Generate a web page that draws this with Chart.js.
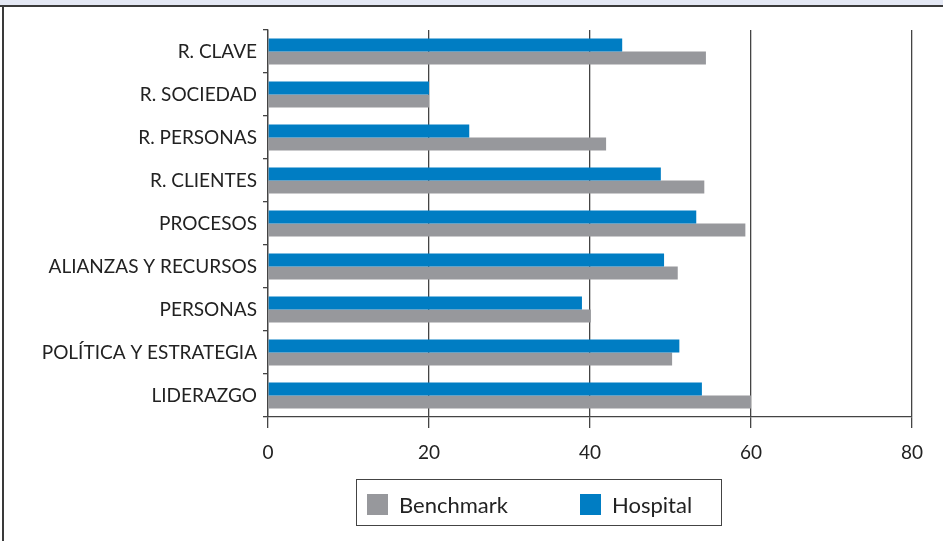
<!DOCTYPE html>
<html>
<head>
<meta charset="utf-8">
<script src="https://cdn.jsdelivr.net/npm/chart.js@4/dist/chart.umd.min.js"></script>
<style>
  html, body { margin: 0; padding: 0; background: #fff; }
  #frame { position: relative; width: 943px; height: 541px; overflow: hidden; }
  #topband { position: absolute; left: 0; top: 0; width: 943px; height: 5px; background: #e4e8f4; border-bottom: 2px solid #3a3a3a; }
  #leftline { position: absolute; left: 2px; top: 5px; width: 2px; height: 536px; background: #3a3a3a; }
  #chartWrap { position: absolute; left: 0; top: 0; width: 943px; height: 541px; }
  #legend {
    position: absolute; left: 356px; top: 479px; width: 364px; height: 45px;
    border: 1.5px solid #444; box-sizing: content-box;
    font-family: Lato, sans-serif; font-size: 22px; color: #222;
  }
  .item { position: absolute; top: 11px; display: flex; align-items: center; }
  .swatch { width: 21px; height: 21px; margin-right: 11px; }
</style>
</head>
<body>
<div id="frame">
  <div id="topband"></div>
  <div id="leftline"></div>
  <div id="chartWrap"><canvas id="chart" width="943" height="541"></canvas></div>
  <div id="legend"></div>
</div>
<script>
const categories = ['R. CLAVE', 'R. SOCIEDAD', 'R. PERSONAS', 'R. CLIENTES', 'PROCESOS',
  'ALIANZAS Y RECURSOS', 'PERSONAS', 'POLÍTICA Y ESTRATEGIA', 'LIDERAZGO'];
const hospital = [44, 20, 25, 48.8, 53.2, 49.2, 39, 51.1, 53.9];
const benchmark = [54.4, 20, 42, 54.2, 59.3, 50.9, 40.1, 50.2, 60];
const xTicks = [0, 20, 40, 60, 80];

const blue = '#007dc3';
const gray = '#97989c';
const axisColor = '#444';

const ctx = document.getElementById('chart').getContext('2d');
const chart = new Chart(ctx, {
  type: 'bar',
  data: {
    labels: categories,
    datasets: [{
      label: 'Hospital',
      data: hospital,
      backgroundColor: blue,
      categoryPercentage: 0.6,
      barPercentage: 1.0
    }, {
      label: 'Benchmark',
      data: benchmark,
      backgroundColor: gray,
      categoryPercentage: 0.6,
      barPercentage: 1.0
    }]
  },
  options: {
    indexAxis: 'y',
    responsive: false,
    animation: false,
    layout: { padding: { top: 30, right: 31, left: 0, bottom: 64 } },
    plugins: {
      legend: { display: false },
      tooltip: { enabled: false }
    },
    scales: {
      x: {
        min: 0,
        max: 80,
        afterBuildTicks: s => { s.ticks = xTicks.map(v => ({ value: v })); },
        afterFit: s => { s.height = 60; },
        grid: { color: axisColor, lineWidth: 1.3, tickLength: 11 },
        border: { color: axisColor, width: 1.3 },
        ticks: { color: '#222', font: { family: 'Lato', size: 19 }, padding: 13 }
      },
      y: {
        afterFit: s => { s.width = 268; },
        grid: { offset: true, drawOnChartArea: false, color: axisColor, lineWidth: 1.3, tickLength: 5 },
        border: { color: axisColor, width: 1.3 },
        ticks: { color: '#222', font: { family: 'Lato', size: 19 }, padding: 6 }
      }
    }
  }
});

// legend box, Benchmark first like the original
const legend = document.getElementById('legend');
const legendItems = [
  { label: 'Benchmark', color: gray, left: 10 },
  { label: 'Hospital', color: blue, left: 223 }
];
legendItems.forEach(it => {
  const el = document.createElement('div');
  el.className = 'item';
  el.style.left = it.left + 'px';
  el.innerHTML = `<span class="swatch" style="background:${it.color}"></span><span>${it.label}</span>`;
  legend.appendChild(el);
});
</script>
</body>
</html>
